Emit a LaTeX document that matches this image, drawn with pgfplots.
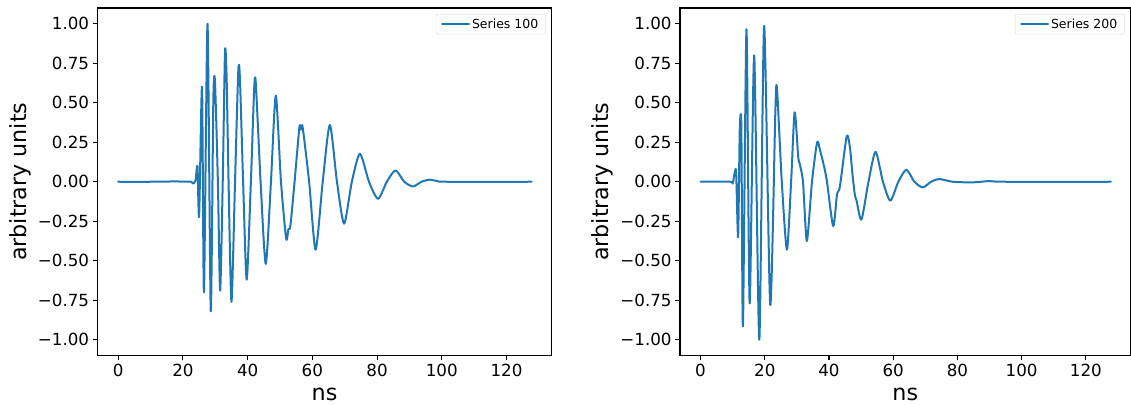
\documentclass[border=0pt]{standalone}
\usepackage{fontspec}
\setmainfont{DejaVu Sans}
\usepackage{pgfplots}
\pgfplotsset{compat=1.18}
\definecolor{mplblue}{HTML}{1F77B4}
\pgfplotsset{
  mystyle/.style={
    scale only axis,
    height=347.5bp,
    xmin=-6.4, xmax=133.9,
    ymin=-1.1, ymax=1.1,
    axis line style={line width=1.1bp},
    tick align=outside,
    tick pos=left,
    major tick length=4.9bp,
    every tick/.style={black, line width=1.1bp},
    xtick={0,20,40,60,80,100,120},
    ytick={-1,-0.75,-0.5,-0.25,0,0.25,0.5,0.75,1},
    yticklabels={−1.00,−0.75,−0.50,−0.25,0.00,0.25,0.50,0.75,1.00},
    ticklabel style={font=\fontsize{16.7bp}{20bp}\selectfont},
    /pgf/number format/assume math mode=true,
    xlabel={ns}, ylabel={arbitrary units},
    label style={font=\fontsize{22.2bp}{26bp}\selectfont},
    xlabel style={yshift=-5bp},
    legend style={at={(1,1)}, anchor=north east, xshift=-6bp, yshift=-6bp,
      draw=black!15, rounded corners=2bp, inner xsep=5bp, inner ysep=2.5bp,
      font=\fontsize{12.5bp}{15bp}\selectfont},
    legend image code/.code={\draw[#1] (0bp,0bp) -- (27bp,0bp);},
    legend cell align=left,
  }
}
\begin{document}
\begin{tikzpicture}
\useasboundingbox (0,0) rectangle (1131bp,405bp);
\begin{axis}[mystyle, width=454bp, at={(97.5bp,49.5bp)}, anchor=south west]
\addplot[mplblue, line width=2bp, line join=round, line cap=round, smooth, tension=0.42, no markers] coordinates {
(0,0) (10,0) (18,0.002) (20,0) (22.5,0) (23.2,-0.012) (23.9,0.01) (24.5,0.097)
(25.0,-0.22) (25.9,0.60) (26.5,-0.70) (27.6,1.00) (28.6,-0.82) (29.4,0.52)
(29.9,0.635) (30.8,0) (31.5,-0.69) (32.3,0) (33.0,0.825) (33.5,0.66) (34.1,0)
(35.0,-0.76) (36.1,0) (37.1,0.70) (37.6,0.66) (38.6,0) (39.7,-0.62) (41.0,0)
(42.0,0.58) (42.5,0.63) (44.0,0) (45.6,-0.52) (47.2,0) (48.7,0.545) (50.3,0)
(51.9,-0.36) (52.6,-0.30) (53.2,-0.28) (54.5,0) (56.0,0.345) (56.5,0.33)
(57.0,0.345) (59.0,0) (61.0,-0.43) (63.2,0) (65.4,0.36) (67.6,0) (69.8,-0.265)
(72.2,0) (74.7,0.177) (77.5,0) (80.3,-0.108) (83.0,0) (85.7,0.072) (88.4,0)
(91.1,-0.03) (93.7,0) (96.3,0.013) (99,0.002) (101.4,0) (127.75,0)
};
\addlegendentry{Series 100}
\end{axis}
\begin{axis}[mystyle, width=450.5bp, at={(680bp,49.5bp)}, anchor=south west]
\addplot[mplblue, line width=2bp, line join=round, line cap=round, smooth, tension=0.42, no markers] coordinates {
(0,0) (9.3,0) (10.0,-0.012) (10.75,0.07) (11.1,0.05) (11.7,-0.35) (12.2,0.32)
(12.7,0.355) (13.2,-0.915) (14.3,0.965) (15.3,-0.77) (16.7,0.80) (18.3,-1.00)
(19.8,0.987) (21.7,-0.78) (23.3,0.45) (23.8,0.59) (25.3,0) (26.9,-0.43) (28.2,0)
(29.3,0.44) (30.4,0.16) (30.8,0.12) (31.9,0) (33.1,-0.375) (34.7,0) (36.3,0.25)
(37.2,0.20) (38.2,0.12) (39.3,0.01) (41.3,-0.28) (42.5,-0.08) (43.4,-0.03)
(45.5,0.287) (46.5,0.22) (47.3,0.05) (48.1,-0.09) (48.6,-0.12) (50.1,-0.24)
(52.3,0) (54.5,0.19) (56.8,0) (59.1,-0.12) (61.6,0) (64.1,0.076) (66.6,0)
(69.2,-0.036) (71.8,0) (74.4,0.017) (78.5,0) (84.7,-0.004) (89.8,0.004) (95,0)
(127.75,0)
};
\addlegendentry{Series 200}
\end{axis}
\end{tikzpicture}
\end{document}
